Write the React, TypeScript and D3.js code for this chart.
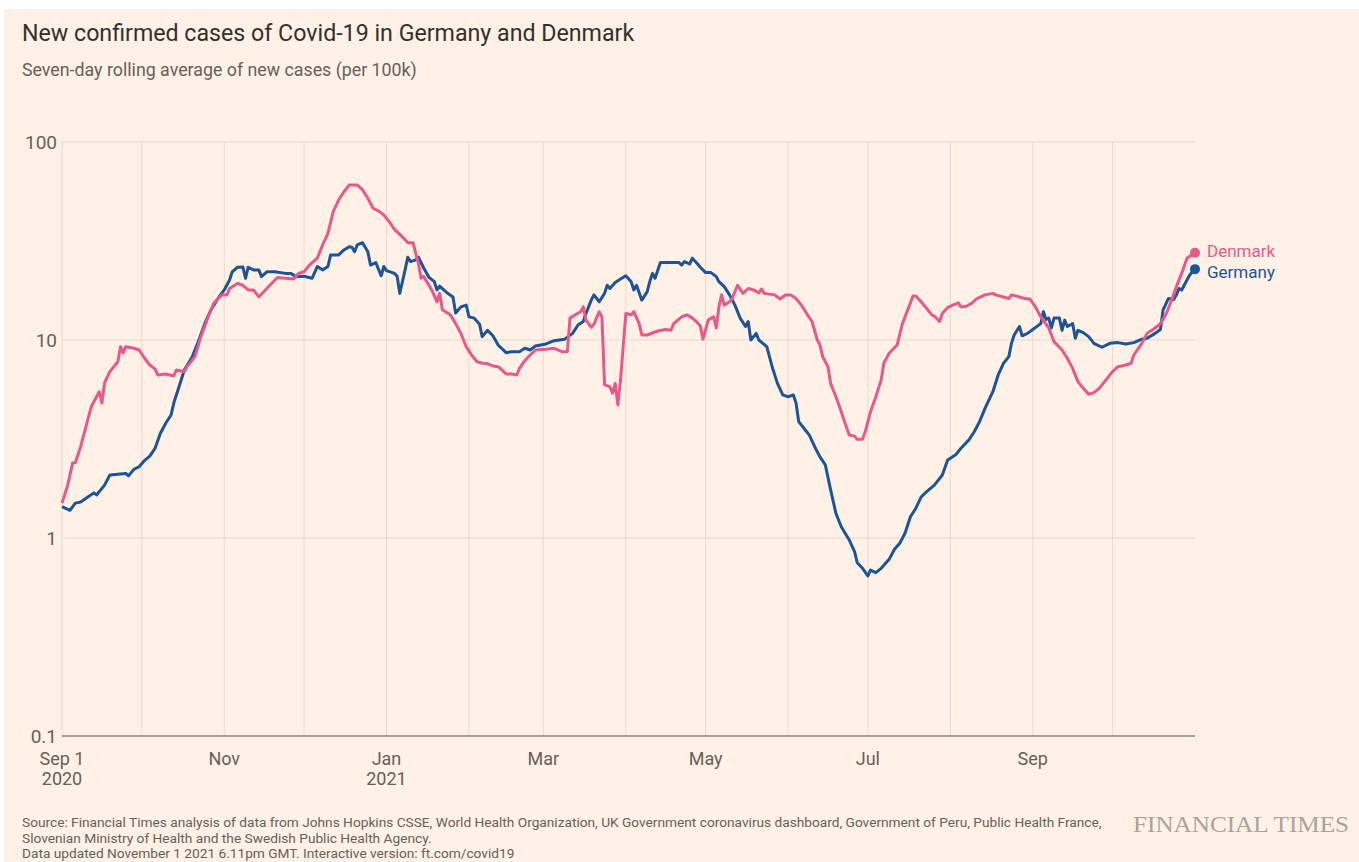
import React from 'react'
import * as d3 from 'd3'

// days since Sep 1 2020, seven-day average of new cases per 100k
const germany: [number, number][] = [
  [0, 1.44], [3, 1.38], [5, 1.5], [7, 1.52], [10, 1.62], [12, 1.69], [13, 1.65], [15, 1.78], [16, 1.85], [18, 2.08],
  [21, 2.1], [24, 2.12], [25, 2.06], [27, 2.22], [29, 2.29], [31, 2.46], [33, 2.59], [35, 2.84], [37, 3.38], [39, 3.8],
  [41, 4.18], [42, 4.79], [44, 5.81], [46, 7.05], [49, 8.24], [51, 9.62], [54, 12.4], [56, 14.2], [59, 16.5], [61, 17.9],
  [63, 20.1], [64, 22.1], [66, 23.3], [68, 23.4], [69, 20.5], [70, 23.3], [72, 22.6], [74, 22.6], [75, 20.9], [77, 22.1],
  [80, 22.1], [84, 21.7], [86, 21.7], [88, 20.9], [91, 21], [94, 20.5], [96, 23.5], [98, 22.6], [100, 23.5], [101, 26.9],
  [104, 26.9], [106, 28.5], [108, 29.6], [109, 29.4], [110, 27.9], [111, 30.2], [113, 31], [115, 27.9], [116, 23.9], [118, 24.6],
  [120, 21.1], [121, 23.5], [122, 22.4], [125, 21.7], [126, 21], [127, 17.2], [129, 22.6], [130, 26.2], [131, 24.9], [133, 25.4],
  [134, 26.2], [136, 23.1], [138, 20.7], [140, 19.7], [141, 17.9], [142, 18.7], [145, 17.2], [147, 16.5], [148, 13.7], [150, 14.7],
  [152, 15], [153, 13.1], [155, 12.9], [157, 12], [158, 10.4], [160, 11.2], [162, 10.5], [164, 9.43], [167, 8.63], [169, 8.73],
  [172, 8.73], [174, 9.08], [176, 8.9], [178, 9.33], [182, 9.55], [185, 9.92], [189, 10.1], [192, 10.8], [194, 11.9], [196, 12.4],
  [197, 13.6], [199, 15.9], [200, 16.9], [202, 15.6], [204, 17.2], [205, 18.9], [206, 18.2], [208, 19.5], [210, 20.3], [212, 21.1],
  [214, 19.7], [215, 17.9], [216, 18.9], [218, 15.9], [220, 17.5], [221, 19.7], [222, 21.7], [223, 20.5], [225, 24.6], [228, 24.6],
  [232, 24.6], [233, 23.9], [234, 24.9], [236, 24.2], [237, 25.9], [239, 24.2], [240, 23.3], [242, 21.9], [244, 21.9], [246, 20.9],
  [247, 19.7], [249, 18.6], [251, 16.9], [253, 15], [255, 12.9], [257, 11.7], [258, 12.4], [259, 10], [261, 10.8], [262, 10],
  [265, 9.25], [267, 7.33], [269, 6.04], [271, 5.28], [273, 5.17], [275, 5.28], [276, 4.79], [277, 3.87], [280, 3.44], [281, 3.31],
  [283, 2.89], [285, 2.57], [287, 2.34], [289, 1.75], [291, 1.33], [293, 1.14], [296, 0.977], [298, 0.853], [299, 0.75], [301, 0.703],
  [303, 0.643], [304, 0.689], [306, 0.668], [308, 0.703], [311, 0.78], [313, 0.877], [315, 0.94], [317, 1.06], [319, 1.28], [321, 1.41],
  [323, 1.61], [325, 1.71], [328, 1.85], [331, 2.08], [333, 2.48], [336, 2.63], [338, 2.84], [341, 3.13], [343, 3.44], [345, 3.87],
  [347, 4.5], [350, 5.48], [352, 6.66], [354, 7.63], [356, 8.24], [357, 9.62], [358, 10.6], [360, 11.7], [361, 10.5], [363, 10.8],
  [365, 11.3], [368, 12.1], [369, 13.9], [370, 12.7], [371, 12.9], [372, 11.5], [373, 12.9], [375, 12.9], [376, 11.2], [377, 12.6],
  [378, 11.7], [380, 12.1], [381, 10.2], [382, 11.2], [384, 10.9], [386, 10.4], [388, 9.62], [391, 9.19], [394, 9.62], [397, 9.7],
  [400, 9.55], [403, 9.7], [406, 10.1], [408, 10.2], [411, 10.8], [413, 11.3], [414, 14.2], [416, 16.2], [418, 16], [419, 16.9],
  [420, 18.2], [421, 17.9], [423, 20.1], [424, 21.3], [426, 22.8],
]

const denmark: [number, number][] = [
  [0, 1.5], [2, 1.82], [4, 2.39], [5, 2.4], [7, 2.89], [9, 3.65], [11, 4.6], [13, 5.17], [14, 5.48], [15, 4.81],
  [16, 6.07], [18, 6.92], [20, 7.48], [21, 7.77], [22, 9.25], [23, 8.6], [24, 9.25], [27, 9.08], [29, 8.9], [31, 8.11],
  [33, 7.48], [35, 7.14], [36, 6.66], [39, 6.74], [42, 6.58], [43, 7.05], [46, 6.92], [47, 7.33], [50, 8.24], [52, 10.2],
  [55, 13.1], [57, 15.3], [60, 16.9], [62, 16.9], [63, 18.2], [66, 19.3], [68, 18.9], [70, 17.9], [72, 17.9], [74, 16.5],
  [77, 18.2], [81, 20.7], [84, 20.5], [87, 20.3], [89, 21.7], [91, 22.1], [93, 23.9], [96, 25.9], [98, 30.2], [100, 34.6],
  [102, 44.5], [104, 50.9], [106, 56.1], [108, 60.7], [111, 60.7], [113, 57.3], [115, 52], [117, 46.2], [119, 44.9], [121, 42.8],
  [123, 39.6], [125, 36.2], [128, 33.2], [130, 31], [132, 31], [133, 27.4], [134, 24.4], [135, 20.5], [136, 20.9], [139, 17.9],
  [141, 15.6], [142, 17.2], [143, 14.2], [146, 13.4], [148, 12.1], [150, 10.8], [152, 9.25], [154, 8.4], [156, 7.77], [158, 7.63],
  [160, 7.6], [162, 7.39], [164, 7.33], [167, 6.74], [169, 6.74], [171, 6.66], [172, 7.19], [174, 7.86], [176, 8.4], [178, 8.9],
  [182, 8.98], [185, 9.08], [188, 8.73], [190, 8.73], [191, 12.9], [193, 13.4], [195, 13.9], [196, 14.7], [197, 12.6], [199, 11.6],
  [200, 12], [202, 13.9], [203, 13.1], [204, 5.93], [206, 5.81], [207, 5.38], [208, 6.04], [209, 4.7], [210, 6.28], [212, 13.6],
  [214, 13.4], [215, 13.9], [217, 12.1], [218, 10.6], [220, 10.6], [224, 11.1], [227, 11.3], [229, 11.2], [230, 12.1], [233, 13.1],
  [235, 13.4], [237, 12.9], [239, 12.2], [240, 11.8], [241, 10.1], [243, 12.6], [245, 13.1], [246, 11.5], [247, 14.7], [248, 16.9],
  [249, 15], [251, 15.6], [252, 16.2], [254, 18.9], [256, 17.2], [258, 18.2], [260, 17.9], [262, 17.3], [263, 18.1], [264, 17.2],
  [268, 16.9], [270, 16.1], [272, 16.9], [274, 16.9], [276, 16.2], [278, 15], [280, 13.6], [282, 12.4], [284, 10], [285, 9.43],
  [286, 8.24], [288, 7.33], [289, 6.04], [291, 5.17], [293, 4.34], [294, 3.94], [296, 3.31], [298, 3.27], [299, 3.15], [301, 3.15],
  [302, 3.44], [304, 4.34], [306, 5.17], [308, 6.28], [309, 7.63], [311, 8.57], [314, 9.43], [316, 12.1], [318, 14.2], [320, 16.7],
  [321, 16.7], [323, 15.6], [325, 14.5], [327, 13.4], [328, 13.2], [330, 12.4], [331, 13.6], [333, 14.6], [335, 15], [337, 15.4],
  [338, 14.7], [340, 14.8], [342, 15.3], [344, 16.2], [347, 16.9], [350, 17.2], [351, 16.9], [354, 16.5], [356, 16.2], [357, 16.9],
  [360, 16.5], [362, 16.2], [364, 16.1], [366, 14.7], [368, 13.1], [371, 11.5], [373, 9.81], [376, 8.9], [378, 8.08], [380, 7.19],
  [382, 6.16], [384, 5.7], [386, 5.32], [388, 5.42], [390, 5.7], [392, 6.16], [395, 6.92], [397, 7.33], [400, 7.48], [402, 7.63],
  [403, 8.4], [406, 9.62], [408, 10.8], [411, 11.5], [413, 12.1], [415, 13.4], [417, 15.6], [419, 18.6], [421, 21.7], [423, 25.9],
  [426, 27.6],
]

const yTicks = [0.1, 1, 10, 100]
const yTickLabels = ['0.1', '1', '10', '100']
const xTickDates = ['2020-09-01', '2020-11-01', '2021-01-01', '2021-03-01', '2021-05-01', '2021-07-01', '2021-09-01']
const xTickLabels = ['Sep 1', 'Nov', 'Jan', 'Mar', 'May', 'Jul', 'Sep']
const xTickYears = ['2020', '', '2021', '', '', '', '']

const sourceLines = [
  'Source: Financial Times analysis of data from Johns Hopkins CSSE, World Health Organization, UK Government coronavirus dashboard, Government of Peru, Public Health France,',
  'Slovenian Ministry of Health and the Swedish Public Health Agency.',
  'Data updated November 1 2021 6.11pm GMT. Interactive version: ft.com/covid19',
]

const START = new Date(Date.UTC(2020, 8, 1))
const END = new Date(Date.UTC(2021, 10, 1))

const FONT = 'Roboto, "Open Sans", sans-serif'
const PINK = '#e9588b'
const BLUE = '#1d5397'
const GRID = '#e6d9ce'
const TEXT = '#66605c'

export default function App() {
  const width = 1359
  const height = 862
  const margin = { top: 142, right: 164, bottom: 126, left: 62 }

  const x = d3.scaleUtc().domain([START, END]).range([margin.left, width - margin.right])
  const y = d3.scaleLog().domain([0.1, 100]).range([height - margin.bottom, margin.top])

  const line = d3.line<[number, number]>()
    .x(d => x(d3.utcDay.offset(START, d[0])))
    .y(d => y(d[1]))

  const months = d3.utcMonth.range(START, END)
  const parse = d3.utcParse('%Y-%m-%d')

  // label nudges keep the two end labels apart
  const series = [
    { name: 'Germany', data: germany, color: BLUE, nudge: 2.5 },
    { name: 'Denmark', data: denmark, color: PINK, nudge: -1.5 },
  ]

  return (
    <svg width={width} height={height} style={{ position: 'absolute', left: 0, top: 0, fontFamily: FONT }}>
      <rect x={0} y={0} width={width} height={height} fill="#fff" />
      <rect x={4} y={9} width={width - 4} height={height - 9} fill="#fff1e5" />

      <text x={22} y={41} fontSize={23.2} fill="#33302e">New confirmed cases of Covid-19 in Germany and Denmark</text>
      <text x={22} y={76} fontSize={17.8} fill={TEXT}>Seven-day rolling average of new cases (per 100k)</text>

      {/* grid */}
      <g stroke={GRID} strokeWidth={1}>
        {months.map(m => (
          <line key={+m} x1={x(m)} x2={x(m)} y1={y(100)} y2={y(0.1)} />
        ))}
        {yTicks.slice(1).map(t => (
          <line key={t} x1={x.range()[0]} x2={x.range()[1]} y1={y(t)} y2={y(t)} />
        ))}
      </g>
      <line x1={x.range()[0]} x2={x.range()[1]} y1={y(0.1)} y2={y(0.1)} stroke="#8a837e" strokeWidth={1.5} />

      {yTicks.map((t, i) => (
        <text key={t} x={57} y={y(t)} dy="0.35em" textAnchor="end" fontSize={19} fill={TEXT}>{yTickLabels[i]}</text>
      ))}

      {xTickDates.map((d, i) => {
        const px = x(parse(d)!)
        return (
          <g key={d} fontSize={18} fill={TEXT} textAnchor="middle">
            <text x={px} y={765}>{xTickLabels[i]}</text>
            {xTickYears[i] && <text x={px} y={785}>{xTickYears[i]}</text>}
          </g>
        )
      })}

      {/* lines */}
      {series.map(s => (
        <path key={s.name} d={line(s.data)!} fill="none" stroke={s.color} strokeWidth={3} strokeLinejoin="round" />
      ))}

      {series.map(s => {
        const last = s.data[s.data.length - 1]
        const cx = x(d3.utcDay.offset(START, last[0]))
        const cy = y(last[1])
        return (
          <g key={s.name}>
            <circle cx={cx} cy={cy} r={5} fill={s.color} />
            <text x={cx + 12} y={cy + s.nudge} dy="0.35em" fontSize={17} fill={s.color}>{s.name}</text>
          </g>
        )
      })}

      {sourceLines.map((l, i) => (
        <text key={i} x={22} y={827 + i * 15.5} fontSize={13.7} fill={TEXT}>{l}</text>
      ))}
      <text x={1133} y={832} fontSize={23} fontFamily='"Liberation Serif", "DejaVu Serif", serif'
        fill="#aaa39e" textLength={216} lengthAdjust="spacingAndGlyphs">FINANCIAL TIMES</text>
    </svg>
  )
}
